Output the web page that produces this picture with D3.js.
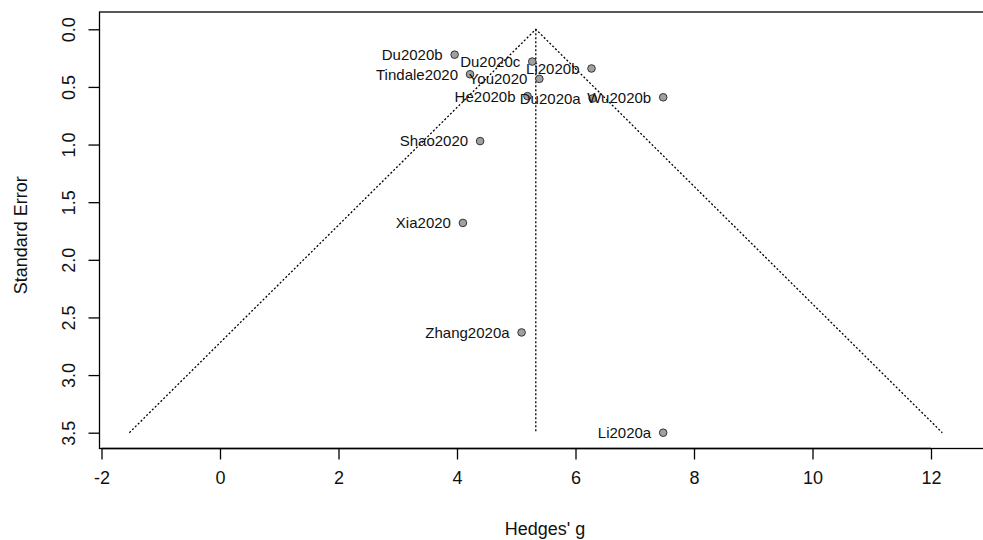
<!DOCTYPE html>
<html>
<head>
<meta charset="utf-8">
<script src="https://cdn.jsdelivr.net/npm/d3@7"></script>
<style>
  html, body { margin: 0; padding: 0; background: #fff; }
  svg { display: block; }
  text { font-family: "Liberation Sans", Arial, sans-serif; fill: #111; }
</style>
</head>
<body>
<svg id="chart" width="983" height="540"></svg>
<script>
// ---- data ----
const studies = ["Du2020b","Du2020c","Li2020b","Tindale2020","You2020","He2020b","Du2020a","Wu2020b","Shao2020","Xia2020","Zhang2020a","Li2020a"];
const hedgesG = [3.96, 5.27, 6.27, 4.22, 5.39, 5.19, 6.29, 7.48, 4.39, 4.10, 5.09, 7.48];
const stdErr  = [0.22, 0.28, 0.34, 0.39, 0.43, 0.58, 0.60, 0.59, 0.97, 1.68, 2.63, 3.50];
const pooled = 5.33;
const seMax = 3.5;
const xTicks = [-2, 0, 2, 4, 6, 8, 10, 12];
const yTicks = [0.0, 0.5, 1.0, 1.5, 2.0, 2.5, 3.0, 3.5];

const svg = d3.select("#chart");
const box = {left: 99.5, top: 12, right: 995, bottom: 448.5};

const x = d3.scaleLinear().domain([-2, 12]).range([101.5, 931]);
const y = d3.scaleLinear().domain([0, 3.5]).range([29.3, 432.7]);

// funnel
const z = 1.96;
const funnel = [[pooled - z*seMax, seMax],[pooled, 0],[pooled + z*seMax, seMax]];
svg.append("path")
  .attr("d", d3.line().x(d => x(d[0])).y(d => y(d[1]))(funnel))
  .attr("fill", "none").attr("stroke", "#000").attr("stroke-width", 1.3)
  .attr("stroke-dasharray", "2,2");
svg.append("line")
  .attr("x1", x(pooled)).attr("x2", x(pooled))
  .attr("y1", y(0)).attr("y2", y(seMax))
  .attr("stroke", "#000").attr("stroke-width", 1.3).attr("stroke-dasharray", "2,2");

// box
svg.append("rect")
  .attr("x", box.left).attr("y", box.top)
  .attr("width", box.right - box.left).attr("height", box.bottom - box.top)
  .attr("fill", "none").attr("stroke", "#000").attr("stroke-width", 1.3);

// axes
const xAxis = d3.axisBottom(x).tickValues(xTicks).tickSize(11).tickPadding(12).tickFormat(d => String(d));
const gx = svg.append("g").attr("transform", `translate(0,${box.bottom})`).call(xAxis);
gx.select(".domain").attr("d", `M${x(-2)},0H${x(12)}`).attr("stroke", "#000").attr("stroke-width", 1.3);
gx.selectAll(".tick line").attr("stroke", "#000").attr("stroke-width", 1.3);
gx.selectAll(".tick text").attr("font-size", 18).attr("fill", "#111")
  .attr("font-family", "Liberation Sans, Arial, sans-serif");

const yAxis = d3.axisLeft(y).tickValues(yTicks).tickSize(11).tickPadding(8).tickFormat(d3.format(".1f"));
const gy = svg.append("g").attr("transform", `translate(${box.left},0)`).call(yAxis);
gy.select(".domain").remove();
gy.selectAll(".tick line").attr("stroke", "#000").attr("stroke-width", 1.3);
gy.selectAll(".tick text")
  .attr("font-size", 18).attr("fill", "#111")
  .attr("font-family", "Liberation Sans, Arial, sans-serif")
  .attr("x", null).attr("dy", null)
  .attr("text-anchor", "middle")
  .attr("transform", "translate(-25,0) rotate(-90)");

// axis titles
svg.append("text").attr("x", 545).attr("y", 535).attr("text-anchor", "middle")
  .attr("font-size", 18).text("Hedges' g");
svg.append("text").attr("transform", `translate(27,${(box.top+box.bottom)/2 + 5}) rotate(-90)`)
  .attr("text-anchor", "middle").attr("font-size", 18).text("Standard Error");

// points + labels
const data = studies.map((s, i) => ({name: s, g: hedgesG[i], se: stdErr[i]}));
svg.append("g").selectAll("circle").data(data).join("circle")
  .attr("cx", d => x(d.g)).attr("cy", d => y(d.se)).attr("r", 3.8)
  .attr("fill", "#a0a0a0").attr("stroke", "#333").attr("stroke-width", 1);
svg.append("g").selectAll("text").data(data).join("text")
  .attr("x", d => x(d.g) - 12).attr("y", d => y(d.se))
  .attr("dy", "0.36em").attr("text-anchor", "end").attr("font-size", 15)
  .text(d => d.name);
</script>
</body>
</html>
